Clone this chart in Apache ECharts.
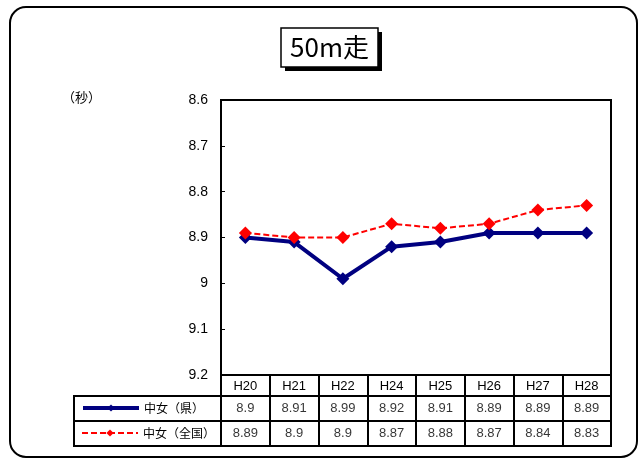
<!DOCTYPE html>
<html>
<head>
<meta charset="utf-8">
<script src="https://cdn.jsdelivr.net/npm/echarts@6/dist/echarts.min.js"></script>
<style>
html,body{margin:0;padding:0;background:#fff;}
#c{width:639px;height:458px;}
</style>
</head>
<body>
<div id="c"></div>
<script>
const categories = ['H20', 'H21', 'H22', 'H24', 'H25', 'H26', 'H27', 'H28'];
const kenValues = [8.9, 8.91, 8.99, 8.92, 8.91, 8.89, 8.89, 8.89];
const zenkokuValues = [8.89, 8.9, 8.9, 8.87, 8.88, 8.87, 8.84, 8.83];
const seriesNames = ['中女（県）', '中女（全国）'];
const yMin = 8.6, yMax = 9.2, yStep = 0.1;
const titleText = '50m走';
const unitText = '（秒）';

const FONT = '"Liberation Sans", "Noto Sans CJK JP", sans-serif';
const CJK = '"Noto Sans CJK JP", "Liberation Sans", sans-serif';

const tableRows = [kenValues, zenkokuValues];
const tableData = [];
tableRows.forEach((row, r) => row.forEach((v, i) => tableData.push([i, r, v])));

const chart = echarts.init(document.getElementById('c'), null, {renderer: 'canvas'});
chart.setOption({
  animation: false,
  backgroundColor: '#fff',
  textStyle: {fontFamily: FONT},
  grid: [
    {left: 221, right: 28, top: 100, bottom: 83, show: true, borderColor: '#000', borderWidth: 2, backgroundColor: 'transparent'},
    {left: 221, right: 28, top: 396, bottom: 12, show: true, borderColor: '#000', borderWidth: 2, backgroundColor: 'transparent'}
  ],
  xAxis: [
    {
      type: 'category', gridIndex: 0, data: categories, boundaryGap: true,
      axisLine: {show: false},
      axisTick: {show: true, inside: false, length: 21, interval: 0, lineStyle: {color: '#000', width: 2}},
      axisLabel: {show: true, interval: 0, margin: 5, color: '#000', fontSize: 13, fontFamily: FONT},
      splitLine: {show: false}
    },
    {
      type: 'category', gridIndex: 1, data: categories, boundaryGap: true,
      axisLine: {show: false}, axisTick: {show: false}, axisLabel: {show: false},
      splitLine: {show: true, interval: 0, lineStyle: {color: '#000', width: 2}}
    }
  ],
  yAxis: [
    {
      type: 'value', gridIndex: 0, inverse: true, min: yMin, max: yMax, interval: yStep,
      axisLine: {show: false},
      axisTick: {show: true, inside: true, length: 4, lineStyle: {color: '#000', width: 1}},
      axisLabel: {color: '#000', fontSize: 14, margin: 13, fontFamily: FONT,
        formatter: v => String(parseFloat(v.toFixed(1)))},
      splitLine: {show: false}
    },
    {
      type: 'category', gridIndex: 1, inverse: true, data: seriesNames, boundaryGap: true,
      axisLine: {show: false}, axisTick: {show: false}, axisLabel: {show: false},
      splitLine: {show: true, interval: 0, lineStyle: {color: '#000', width: 2}}
    }
  ],
  legend: [
    {
      data: [seriesNames[0]], left: 81, top: 402, padding: 0, orient: 'vertical',
      itemWidth: 56, itemHeight: 9, selectedMode: false,
      textStyle: {fontSize: 12, color: '#000', fontFamily: CJK},
      lineStyle: {width: 'inherit'}
    },
    {
      data: [seriesNames[1]], left: 81, top: 427, padding: 0, orient: 'vertical',
      itemWidth: 56, itemHeight: 9, selectedMode: false,
      textStyle: {fontSize: 12, color: '#000', fontFamily: CJK},
      lineStyle: {width: 'inherit'}
    }
  ],
  graphic: [
    {type: 'rect', shape: {x: 10, y: 7, width: 627, height: 450, r: 16}, style: {fill: 'none', stroke: '#000', lineWidth: 2}, z: 0, silent: true},
    {type: 'rect', shape: {x: 285, y: 32, width: 97, height: 39}, style: {fill: '#000'}, z: 10, silent: true},
    {type: 'rect', shape: {x: 281, y: 28, width: 97, height: 39}, style: {fill: '#fff', stroke: '#000', lineWidth: 1.5}, z: 11, silent: true},
    {type: 'text', x: 329.5, y: 47.5, style: {text: titleText, fontSize: 26, fontFamily: CJK, fill: '#000', align: 'center', verticalAlign: 'middle'}, z: 12, silent: true},
    {type: 'text', x: 62, y: 97, style: {text: unitText, fontSize: 13, fontFamily: CJK, fill: '#000', align: 'left', verticalAlign: 'middle'}, z: 12, silent: true},
    {type: 'rect', shape: {x: 74, y: 396, width: 147, height: 50}, style: {fill: 'none', stroke: '#000', lineWidth: 2}, z: 10, silent: true},
    {type: 'line', shape: {x1: 74, y1: 421, x2: 221, y2: 421}, style: {stroke: '#000', lineWidth: 2}, z: 10, silent: true}
  ],
  series: [
    {
      name: seriesNames[0], type: 'line', xAxisIndex: 0, yAxisIndex: 0, data: kenValues,
      symbol: 'diamond', symbolSize: 13, showSymbol: true,
      lineStyle: {color: '#000080', width: 4},
      itemStyle: {color: '#000080'},
      emphasis: {disabled: true}
    },
    {
      name: seriesNames[1], type: 'line', xAxisIndex: 0, yAxisIndex: 0, data: zenkokuValues,
      symbol: 'diamond', symbolSize: 13, showSymbol: true,
      lineStyle: {color: '#ff0000', width: 2, type: [6, 3]},
      itemStyle: {color: '#ff0000'},
      emphasis: {disabled: true}
    },
    {
      name: 'table', type: 'scatter', xAxisIndex: 1, yAxisIndex: 1, data: tableData,
      symbolSize: 1, itemStyle: {color: 'transparent'}, silent: true,
      label: {show: true, position: 'inside', color: '#000', fontSize: 13, fontFamily: FONT,
        formatter: p => String(p.value[2])},
      emphasis: {disabled: true}
    }
  ]
});
</script>
</body>
</html>
